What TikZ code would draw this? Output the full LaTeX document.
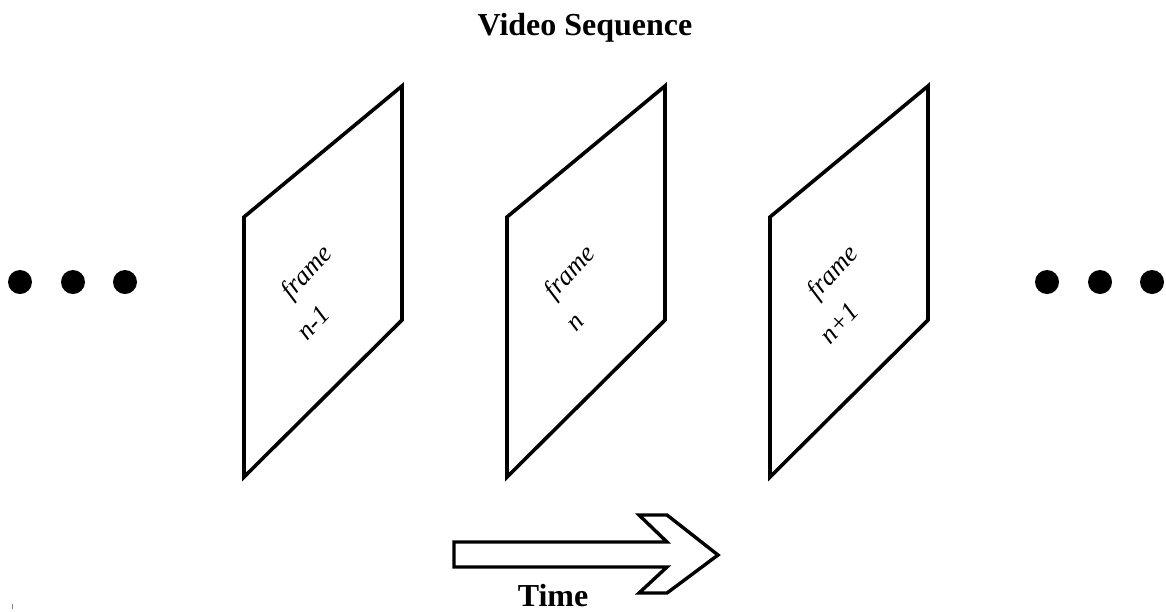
\documentclass[tikz,border=0pt]{standalone}
\usepackage{fontspec}
\newfontfamily\boldserif{Liberation Serif}
\begin{document}
\begin{tikzpicture}[x=1pt,y=-1pt,
  framebox/.style={draw=black,line width=3.6pt,line join=miter},
  framelabel/.style={font=\boldserif\itshape\fontsize{26.5}{31}\selectfont,rotate=47,inner sep=0pt},
  heading/.style={font=\boldserif\bfseries\fontsize{32}{38}\selectfont,inner sep=0pt,anchor=base},
  dot/.style={circle,fill=black,minimum size=24pt,inner sep=0pt},
  timearrow/.style={draw=black,line width=3.4pt,line join=miter}]
\useasboundingbox (0,0) rectangle (1166,611);

% title
\node[heading] (title) at (585,35) {Video Sequence};

% three frames of the sequence, drawn in perspective
\foreach \k/\x/\lab in {prev/244/n-1, cur/507/n, next/770/n+1}{
  \draw[framebox] (\x,217) -- (\x+158,86) -- (\x+158,320) -- (\x,477) -- cycle;
  \node[framelabel] (frame-\k) at (\x+64,273) {frame};
  \node[framelabel] (index-\k) at (\x+69,323) {\lab};
}

% ellipsis dots on both sides
\foreach \i/\x in {1/20,2/73,3/125}{\node[dot] (ldot\i) at (\x,282) {};}
\foreach \i/\x in {1/1047,2/1100,3/1152}{\node[dot] (rdot\i) at (\x,282) {};}

% block arrow for the time axis
\draw[timearrow] (454,542) -- (667,542) -- (639,515) -- (667,515) -- (718,555)
  -- (667,593) -- (639,593) -- (667,567) -- (454,567) -- cycle;
\node[heading] (time) at (553,606) {Time};

% small tick near the lower left corner
\draw[gray,line width=0.7pt] (12,604) -- (12,609);
\end{tikzpicture}
\end{document}
